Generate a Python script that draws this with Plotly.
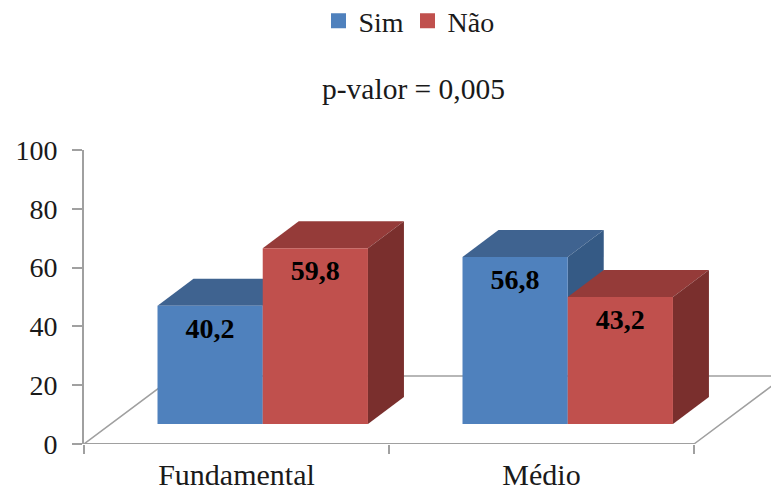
import plotly.graph_objects as go

# Chart data
categories = ["Fundamental", "Médio"]
sim_values = [40.2, 56.8]
nao_values = [59.8, 43.2]
y_ticks = [0, 20, 40, 60, 80, 100]

# Pseudo-3D geometry, in axis units (one category = 1 on x, percent on y)
BAR_START = 0.241      # front face offset inside a category slot
BAR_WIDTH = 0.345
BAR_BASE = 6.8         # front faces stand forward on the floor
DEPTH_X = 0.118        # bar depth
DEPTH_Y = 9.2
FLOOR_X = 0.298        # floor depth
FLOOR_Y = 23.1
FLOOR_END = 2.0
X_MAX = 687 / 305      # room on the right for the receding floor

FONT = "Liberation Serif"
TEXT = "#1a1a1a"
AXIS = "#a0a0a0"
SERIES = [
    ("Sim", sim_values, 0, "#4f81bd", "#3f6390", "#355a85"),
    ("Não", nao_values, 1, "#c0504d", "#953b39", "#7a2f2d"),
]


def polygon(xs, ys, color):
    return go.Scatter(
        x=xs + xs[:1], y=ys + ys[:1], mode="lines", fill="toself",
        fillcolor=color, line=dict(width=0), hoverinfo="skip",
        showlegend=False,
    )


fig = go.Figure()

# Floor outline behind the bars
fig.add_trace(go.Scatter(
    x=[0, FLOOR_X, FLOOR_END + FLOOR_X, FLOOR_END],
    y=[0, FLOOR_Y, FLOOR_Y, 0],
    mode="lines", line=dict(color=AXIS, width=1.5),
    hoverinfo="skip", showlegend=False,
))

# Category axis line stops at the front edge of the floor
fig.add_trace(go.Scatter(
    x=[0, FLOOR_END], y=[0, 0], mode="lines",
    line=dict(color=AXIS, width=2),
    hoverinfo="skip", showlegend=False, cliponaxis=False,
))

# Each box: top, side, then front face, blue series first so red overlaps it
for name, values, slot, front, top, side in SERIES:
    for i, v in enumerate(values):
        x0 = i + BAR_START + slot * BAR_WIDTH
        x1 = x0 + BAR_WIDTH
        y0 = BAR_BASE
        y1 = BAR_BASE + v
        fig.add_trace(polygon(
            [x0, x1, x1 + DEPTH_X, x0 + DEPTH_X],
            [y1, y1, y1 + DEPTH_Y, y1 + DEPTH_Y], top))
        fig.add_trace(polygon(
            [x1, x1 + DEPTH_X, x1 + DEPTH_X, x1],
            [y0, y0 + DEPTH_Y, y1 + DEPTH_Y, y1], side))
        fig.add_trace(polygon([x0, x1, x1, x0], [y0, y0, y1, y1], front))

# Value labels near the top of each front face
for name, values, slot, *_ in SERIES:
    fig.add_trace(go.Scatter(
        x=[i + BAR_START + (slot + 0.5) * BAR_WIDTH for i in range(len(values))],
        y=[BAR_BASE + v - 8.5 for v in values],
        mode="text", text=[f"{v:.1f}".replace(".", ",") for v in values],
        textposition="middle center",
        textfont=dict(family=FONT, size=28, color="#000000", weight="bold"),
        hoverinfo="skip", showlegend=False, cliponaxis=False,
    ))

# Legend entries
for name, values, slot, front, *_ in SERIES:
    fig.add_trace(go.Scatter(
        x=[None], y=[None], mode="markers", name=name,
        marker=dict(symbol="square", size=15, color=front),
    ))

fig.update_layout(
    width=771, height=490,
    margin=dict(l=84, r=0, t=150, b=46, pad=0, autoexpand=False),
    paper_bgcolor="white", plot_bgcolor="white",
    font=dict(family=FONT, size=28, color=TEXT),
    title=dict(
        text="p-valor = 0,005", x=413.5 / 771, xanchor="center",
        xref="container", yref="container", y=1 - 88.5 / 490, yanchor="middle",
        font=dict(family=FONT, size=29.5, color=TEXT),
    ),
    legend=dict(
        orientation="h", xref="container", yref="container",
        x=318.5 / 771, xanchor="left", y=1 - 21 / 490, yanchor="middle",
        entrywidth=44, entrywidthmode="pixels", itemclick=False,
        font=dict(family=FONT, size=28, color=TEXT),
        bgcolor="rgba(0,0,0,0)",
    ),
    xaxis=dict(
        range=[0, X_MAX], showgrid=False, zeroline=False, showline=False,
        tickmode="array", tickvals=[0.5, 1.5], ticktext=categories,
        ticks="", ticklabelstandoff=10,
        tickfont=dict(family=FONT, size=30, color=TEXT),
        minor=dict(tickmode="array", tickvals=[0, 1, 2], ticks="outside",
                   ticklen=9, tickwidth=2, tickcolor=AXIS),
    ),
    yaxis=dict(
        range=[0, 100], showgrid=False, zeroline=False,
        showline=True, linecolor=AXIS, linewidth=2,
        tickmode="array", tickvals=y_ticks, ticks="outside",
        ticklen=10, tickwidth=2, tickcolor=AXIS, ticklabelstandoff=9,
    ),
)

fig.write_html("out.html")
